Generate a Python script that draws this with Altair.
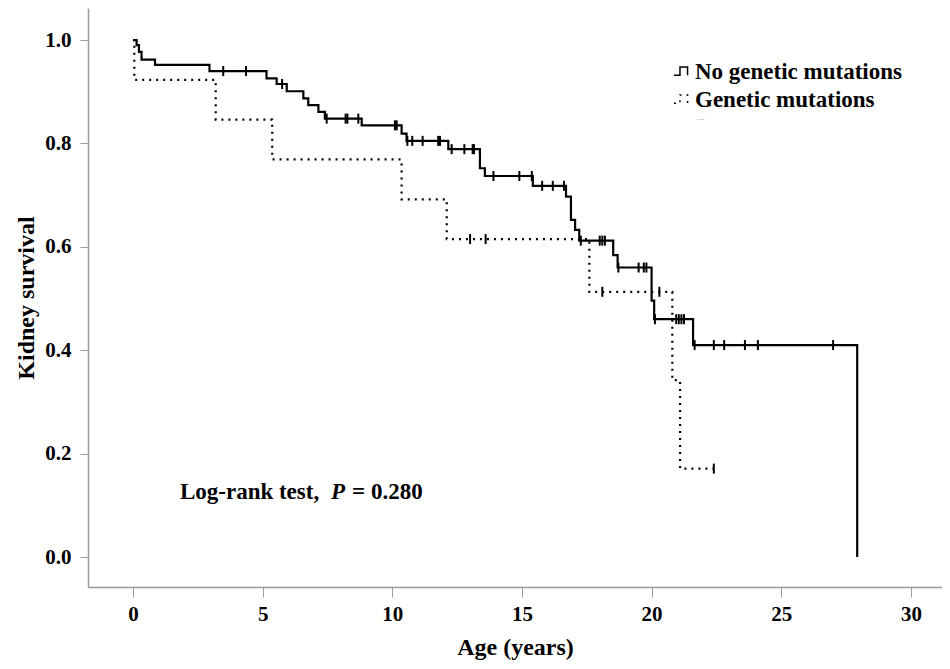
import altair as alt
import pandas as pd

# ---- Data ----
groups = ["No genetic mutations", "Genetic mutations"]

no_mut_times = [0, 0.14, 0.23, 0.33, 0.85, 2.95, 5.15, 5.54, 5.93, 6.57, 6.76, 7.15, 7.40,
                8.82, 10.36, 10.55, 12.16, 13.38, 13.57, 15.42, 16.70, 16.89, 17.05, 17.21,
                18.52, 18.69, 20.00, 20.10, 21.60, 27.93]
no_mut_surv = [1.0, 0.990, 0.977, 0.962, 0.952, 0.940, 0.926, 0.915, 0.901, 0.887, 0.874,
               0.861, 0.848, 0.835, 0.819, 0.805, 0.789, 0.752, 0.737, 0.718, 0.697, 0.652,
               0.633, 0.612, 0.584, 0.560, 0.496, 0.460, 0.410, 0.0]
no_mut_censor = [3.48, 4.36, 5.75, 7.47, 8.20, 8.27, 8.69, 10.10, 10.17, 10.58, 10.77, 11.17,
                 11.77, 11.84, 12.29, 12.78, 13.10, 13.15, 13.90, 14.90, 15.38, 15.78, 16.19,
                 16.62, 17.27, 18.00, 18.10, 18.20, 18.72, 19.50, 19.70, 19.80, 20.13, 20.95,
                 21.05, 21.15, 21.25, 21.66, 22.40, 22.80, 23.60, 24.10, 27.00]

mut_times = [0, 0.05, 3.19, 5.37, 10.36, 12.10, 17.60, 20.80, 21.10, 22.40]
mut_surv = [1.0, 0.923, 0.846, 0.769, 0.692, 0.615, 0.513, 0.342, 0.171, 0.171]
mut_censor = [13.0, 13.6, 18.1, 20.3, 22.4]

x_ticks = [0, 5, 10, 15, 20, 25, 30]
y_ticks = [0.0, 0.2, 0.4, 0.6, 0.8, 1.0]


def level_at(times, surv, t):
    s = surv[0]
    for ti, si in zip(times, surv):
        if ti <= t:
            s = si
    return s


curve_rows = []
for t, s in zip(no_mut_times, no_mut_surv):
    curve_rows.append({"time": t, "surv": s, "group": groups[0]})
for t, s in zip(mut_times, mut_surv):
    curve_rows.append({"time": t, "surv": s, "group": groups[1]})
curves = pd.DataFrame(curve_rows)

cens_rows = []
for t in no_mut_censor:
    cens_rows.append({"time": t, "surv": level_at(no_mut_times, no_mut_surv, t), "group": groups[0]})
for t in mut_censor:
    cens_rows.append({"time": t, "surv": level_at(mut_times, mut_surv, t), "group": groups[1]})
censors = pd.DataFrame(cens_rows)

FONT = "Liberation Serif"
xscale = alt.Scale(domain=[-1.735, 31.2], nice=False, zero=False)
yscale = alt.Scale(domain=[-0.058, 1.062], nice=False, zero=False)

x_enc = alt.X("time:Q", scale=xscale,
              axis=alt.Axis(values=x_ticks, title="Age (years)", tickSize=10, labelPadding=6,
                            titlePadding=11, grid=False, format="d"))
y_enc = alt.Y("surv:Q", scale=yscale,
              axis=alt.Axis(values=y_ticks, title="Kidney survival", tickSize=8, labelPadding=9,
                            titlePadding=6, grid=False, format=".1f"))

lines = alt.Chart(curves).mark_line(interpolate="step-after", color="black", strokeWidth=2.2,
                                    strokeCap="butt").encode(
    x=x_enc,
    y=y_enc,
    strokeDash=alt.StrokeDash(
        "group:N",
        scale=alt.Scale(domain=groups, range=[[1, 0], [2, 5]]),
        legend=alt.Legend(
            title=None, orient="none", legendX=582, legendY=52,
            symbolType="M -1 0.5 L -0.2 0.5 L -0.2 -0.6 L 0.8 -0.6 L 0.8 0.5",
            symbolSize=230, symbolStrokeWidth=1.5, symbolStrokeColor="black",
            symbolFillColor="transparent", labelFont=FONT, labelFontWeight="bold",
            labelFontSize=23, labelColor="black", labelOffset=2, rowPadding=4,
            labelLimit=0,
        ),
    ),
    order="time:Q",
)

ticks = alt.Chart(censors).mark_tick(orient="vertical", color="black", size=10,
                                     thickness=2, opacity=1).encode(
    x=alt.X("time:Q", scale=xscale),
    y=alt.Y("surv:Q", scale=yscale),
)

note1 = alt.Chart(pd.DataFrame({"time": [1.81], "surv": [0.112], "txt": ["Log-rank test,"]})).mark_text(
    align="left", baseline="alphabetic", font=FONT, fontWeight="bold", fontSize=23, color="black"
).encode(x=alt.X("time:Q", scale=xscale), y=alt.Y("surv:Q", scale=yscale), text="txt:N")
note2 = alt.Chart(pd.DataFrame({"time": [7.64], "surv": [0.112], "txt": ["P"]})).mark_text(
    align="left", baseline="alphabetic", font=FONT, fontWeight="bold", fontStyle="italic",
    fontSize=23, color="black"
).encode(x=alt.X("time:Q", scale=xscale), y=alt.Y("surv:Q", scale=yscale), text="txt:N")
note3 = alt.Chart(pd.DataFrame({"time": [8.45], "surv": [0.112], "txt": ["= 0.280"]})).mark_text(
    align="left", baseline="alphabetic", font=FONT, fontWeight="bold", fontSize=23, color="black"
).encode(x=alt.X("time:Q", scale=xscale), y=alt.Y("surv:Q", scale=yscale), text="txt:N")

dots = alt.Chart(pd.DataFrame({"time": [21.75], "surv": [0.845], "txt": ["....."]})).mark_text(
    align="left", baseline="alphabetic", font=FONT, fontSize=6, color="#888"
).encode(x=alt.X("time:Q", scale=xscale), y=alt.Y("surv:Q", scale=yscale), text="txt:N")

chart = alt.layer(lines, ticks, note1, note2, note3, dots).properties(
    width=854, height=579,
    autosize=alt.AutoSizeParams(type="none"),
    padding={"left": 80, "top": 0, "right": 0, "bottom": 74},
).configure_view(stroke=None).configure_axis(
    domainColor="#999", domainWidth=1.5, tickColor="#999", tickWidth=1,
    labelFont=FONT, labelFontWeight="bold", labelFontSize=21, labelColor="black",
    titleFont=FONT, titleFontWeight="bold", titleFontSize=24, titleColor="black",
)

chart.save("out.html", embed_options={"renderer": "svg", "actions": False})
